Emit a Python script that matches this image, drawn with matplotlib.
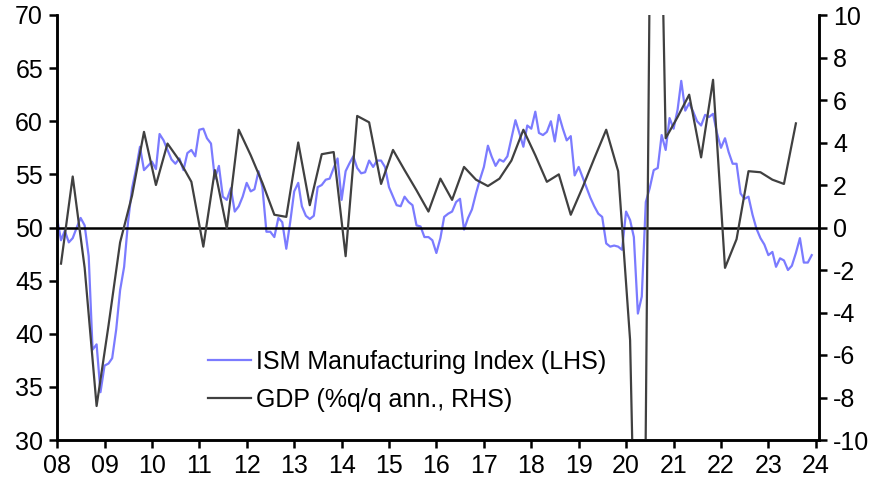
import matplotlib
matplotlib.use("Agg")
import matplotlib.pyplot as plt
import matplotlib.dates as mdates
import pandas as pd
import datetime as dt

plt.rcParams['font.family'] = ['Liberation Sans', 'DejaVu Sans']
plt.rcParams['axes.unicode_minus'] = False

# ISM manufacturing index, monthly Jan 2008 - Dec 2023 (LHS)
ism_2008 = [50.9, 48.8, 49.7, 48.6, 49.0, 50.0, 50.9, 50.2, 47.3, 38.5, 39.0, 34.5]
ism_2009 = [37.0, 37.2, 37.7, 40.4, 44.1, 46.3, 50.5, 53.7, 55.5, 57.6, 55.4, 55.8]
ism_2010 = [56.2, 55.5, 58.8, 58.2, 57.3, 56.4, 56.0, 56.5, 55.4, 57.0, 57.3, 56.7]
ism_2011 = [59.2, 59.3, 58.4, 57.9, 54.6, 55.8, 52.9, 52.6, 53.7, 51.5, 52.0, 52.9]
ism_2012 = [54.2, 53.4, 53.6, 55.3, 53.8, 49.6, 49.6, 49.1, 50.9, 50.5, 48.0, 50.5]
ism_2013 = [53.4, 54.2, 52.0, 51.1, 50.8, 51.1, 53.8, 54.0, 54.5, 54.6, 55.6, 56.5]
ism_2014 = [52.6, 55.3, 56.0, 56.7, 55.6, 55.1, 55.2, 56.3, 55.7, 56.3, 56.3, 55.7]
ism_2015 = [53.8, 52.9, 52.1, 52.0, 52.9, 52.4, 52.1, 50.2, 50.1, 49.1, 49.1, 48.8]
ism_2016 = [47.6, 49.0, 51.0, 51.3, 51.5, 52.4, 52.7, 49.8, 50.9, 51.7, 53.2, 54.5]
ism_2017 = [55.7, 57.7, 56.7, 55.8, 56.4, 56.2, 56.7, 58.4, 60.1, 58.9, 57.6, 59.6]
ism_2018 = [59.3, 60.9, 58.9, 58.7, 59.0, 60.0, 58.1, 60.6, 59.3, 58.2, 58.6, 54.9]
ism_2019 = [55.7, 54.7, 53.8, 52.8, 52.0, 51.3, 51.0, 48.5, 48.2, 48.3, 48.2, 47.9]
ism_2020 = [51.5, 50.7, 49.1, 41.9, 43.5, 52.4, 53.7, 55.4, 55.6, 58.7, 57.3, 60.3]
ism_2021 = [59.3, 61.1, 63.8, 61.0, 61.7, 60.9, 60.0, 59.6, 60.6, 60.4, 60.7, 58.9]
ism_2022 = [57.5, 58.4, 57.1, 56.0, 56.0, 53.2, 52.7, 52.9, 51.2, 49.9, 49.0, 48.4]
ism_2023 = [47.4, 47.7, 46.3, 47.1, 46.9, 46.0, 46.4, 47.6, 49.0, 46.7, 46.7, 47.4]

# GDP, % q/q annualised, 2008Q1 - 2023Q3 (RHS)
gdp_2008 = [-1.7, 2.4, -1.9, -8.4]
gdp_2009 = [-4.6, -0.7, 1.5, 4.5]
gdp_2010 = [2.0, 3.95, 3.15, 2.15]
gdp_2011 = [-0.9, 2.7, -0.05, 4.6]
gdp_2012 = [3.4, 2.1, 0.6, 0.5]
gdp_2013 = [4.0, 1.05, 3.45, 3.55]
gdp_2014 = [-1.35, 5.25, 4.95, 2.05]
gdp_2015 = [3.65, 2.7, 1.75, 0.75]
gdp_2016 = [2.3, 1.3, 2.85, 2.25]
gdp_2017 = [1.95, 2.3, 3.15, 4.6]
gdp_2018 = [3.4, 2.15, 2.5, 0.6]
gdp_2019 = [1.9, 3.25, 4.6, 2.65]
gdp_2020 = [-5.3, -31.2, 33.8, 4.2]
gdp_2021 = [5.2, 6.25, 3.3, 6.95]
gdp_2022 = [-1.9, -0.55, 2.65, 2.6]
gdp_2023 = [2.25, 2.05, 4.9]

ism = (ism_2008 + ism_2009 + ism_2010 + ism_2011 + ism_2012 + ism_2013 + ism_2014 + ism_2015
       + ism_2016 + ism_2017 + ism_2018 + ism_2019 + ism_2020 + ism_2021 + ism_2022 + ism_2023)
gdp = (gdp_2008 + gdp_2009 + gdp_2010 + gdp_2011 + gdp_2012 + gdp_2013 + gdp_2014 + gdp_2015
       + gdp_2016 + gdp_2017 + gdp_2018 + gdp_2019 + gdp_2020 + gdp_2021 + gdp_2022 + gdp_2023)

ism_dates = pd.date_range('2008-01-01', periods=len(ism), freq='MS')
gdp_dates = pd.date_range('2008-02-01', periods=len(gdp), freq='3MS')

fig = plt.figure(figsize=(8.85, 4.91), dpi=100)
ax = fig.add_axes([57 / 885, 1 - 440 / 491, (819 - 57) / 885, (440 - 15) / 491])
ax2 = ax.twinx()

l1, = ax.plot(ism_dates, ism, color='#7b7bff', lw=1.6, label='ISM Manufacturing Index (LHS)')
ax.axhline(50, color='black', lw=1.8, zorder=3)
l2, = ax2.plot(gdp_dates, gdp, color='#404040', lw=1.6, label='GDP (%q/q ann., RHS)')

ax.set_ylim(30, 70)
ax2.set_ylim(-10, 10)
ax.set_yticks(range(30, 71, 5))
ax2.set_yticks(range(-10, 11, 2))
ax.set_xlim(dt.datetime(2008, 1, 1), dt.datetime(2024, 1, 26))
ax.xaxis.set_major_locator(mdates.YearLocator())
ax.xaxis.set_major_formatter(mdates.DateFormatter('%y'))

for a in (ax, ax2):
    a.spines['top'].set_visible(False)
    for s in ('left', 'right', 'bottom'):
        a.spines[s].set_linewidth(1.8)
    a.tick_params(width=1.8, length=6, labelsize=18, direction='out', pad=4)

ax2.legend(handles=[l1, l2], loc='center left', bbox_to_anchor=(208 / 885, 1 - 381 / 491),
           bbox_transform=fig.transFigure, frameon=False, fontsize=18,
           handlelength=1.7, handletextpad=0.2, borderpad=0, borderaxespad=0, labelspacing=0.55)

fig.savefig('out.png', dpi=100)
